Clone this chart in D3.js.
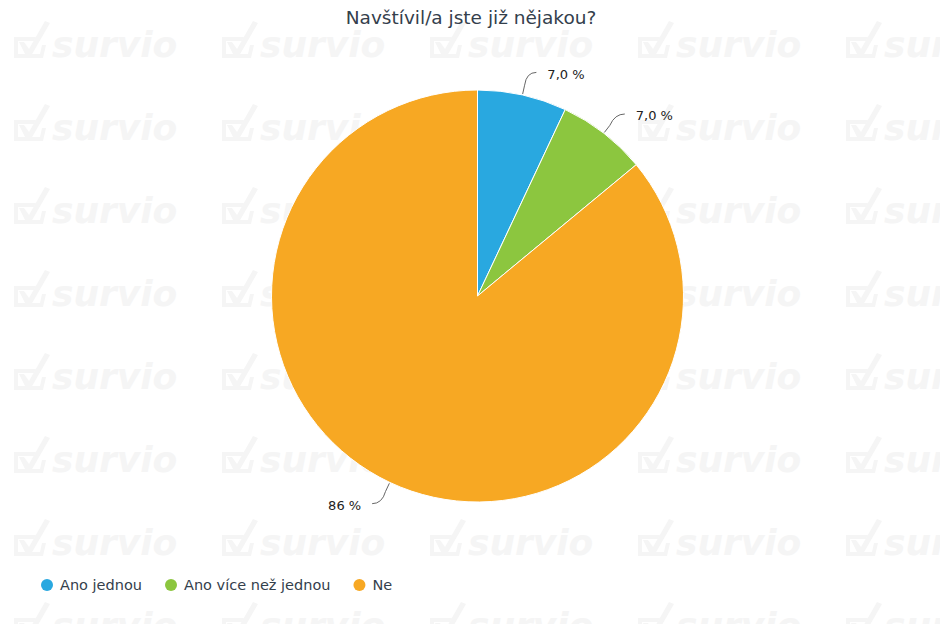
<!DOCTYPE html>
<html>
<head>
<meta charset="utf-8">
<script src="https://cdn.jsdelivr.net/npm/d3@7"></script>
<style>
  html, body { margin: 0; padding: 0; background: #ffffff; }
  svg { display: block; }
</style>
</head>
<body>
<svg id="chart" width="940" height="624"></svg>
<script>
// Survey answers and their shares (percent)
const categories = ["Ano jednou", "Ano více než jednou", "Ne"];
const shares = [7.0, 7.0, 86];
const shareLabels = ["7,0 %", "7,0 %", "86 %"];
const colors = ["#29a8e0", "#8cc63f", "#f7a823"];
const title = "Navštívil/a jste již nějakou?";

const W = 940, H = 624;
const svg = d3.select("#chart");

// Background watermark tiles
const wm = svg.append("g").attr("class", "watermark");
const colStep = 208, rowStep = 83;
const wmColor = "#f5f5f5";
for (let c = 0; c < 5; c++) {
  for (let r = 0; r < 8; r++) {
    const x0 = 12 + c * colStep, y0 = 57 + r * rowStep;
    const g = wm.append("g").attr("transform", `translate(${x0},${y0})`);
    // tick-box icon
    g.append("path")
      .attr("d", "M2,-20 L24,-20 L22,-16 L6,-16 L6,-3 L28,-3 L30,-12 L34,-12 L31,1 L2,1 Z")
      .attr("fill", wmColor);
    g.append("path")
      .attr("d", "M7,-15 L12,-15 L17,-8 L33,-36 L38,-34 L19,-1 L14,-1 Z")
      .attr("fill", wmColor);
    g.append("text")
      .attr("x", 40).attr("y", 0)
      .attr("font-family", "DejaVu Sans")
      .attr("font-weight", "bold")
      .attr("font-style", "italic")
      .attr("font-size", 36)
      .attr("fill", wmColor)
      .text("survio");
  }
}

// Title
svg.append("text")
  .attr("x", 471).attr("y", 24)
  .attr("text-anchor", "middle")
  .attr("font-family", "DejaVu Sans")
  .attr("font-size", 18.5)
  .attr("fill", "#34404c")
  .text(title);

// Pie
const cx = 477.5, cy = 296, R = 206;
const data = categories.map((name, i) => ({ name, value: shares[i], label: shareLabels[i], color: colors[i] }));
const pie = d3.pie().value(d => d.value).sort(null);
const arcs = pie(data);
const arc = d3.arc().innerRadius(0).outerRadius(R);

const pg = svg.append("g").attr("transform", `translate(${cx},${cy})`);
pg.selectAll("path.slice")
  .data(arcs)
  .enter().append("path")
  .attr("class", "slice")
  .attr("d", arc)
  .attr("fill", d => d.data.color)
  .attr("stroke", "#ffffff")
  .attr("stroke-width", 1)
  .attr("stroke-linejoin", "round");

// Data labels with curved connectors
arcs.forEach(a => {
  const mid = (a.startAngle + a.endAngle) / 2;
  const dx = Math.sin(mid), dy = -Math.cos(mid);
  const side = dx >= 0 ? 1 : -1;
  const edge = [dx * (R + 1), dy * (R + 1)];
  const bend = [dx * (R + 10), dy * (R + 10)];
  const elbow = [dx * (R + 18), dy * (R + 18)];
  const end = [elbow[0] + side * 10, elbow[1] + (dy < 0 ? -5 : 5)];
  pg.append("path")
    .attr("d", `M${edge[0]},${edge[1]} L${bend[0]},${bend[1]} Q${elbow[0]},${end[1]} ${end[0]},${end[1]}`)
    .attr("fill", "none")
    .attr("stroke", "#666666")
    .attr("stroke-width", 1);
  pg.append("text")
    .attr("x", end[0] + side * 11)
    .attr("y", end[1] + 2)
    .attr("dy", "0.32em")
    .attr("text-anchor", side > 0 ? "start" : "end")
    .attr("font-family", "DejaVu Sans")
    .attr("font-size", 13)
    .attr("fill", "#222222")
    .text(a.data.label);
});

// Legend
const lg = svg.append("g").attr("transform", "translate(47,585)");
let lx = 0;
data.forEach(d => {
  const item = lg.append("g").attr("transform", `translate(${lx},0)`);
  item.append("circle").attr("r", 6).attr("fill", d.color);
  const t = item.append("text")
    .attr("x", 13).attr("y", 0).attr("dy", "0.35em")
    .attr("font-family", "DejaVu Sans")
    .attr("font-size", 14.5)
    .attr("fill", "#34404c")
    .text(d.name);
  lx += 13 + t.node().getComputedTextLength() + 29;
});
</script>
</body>
</html>
